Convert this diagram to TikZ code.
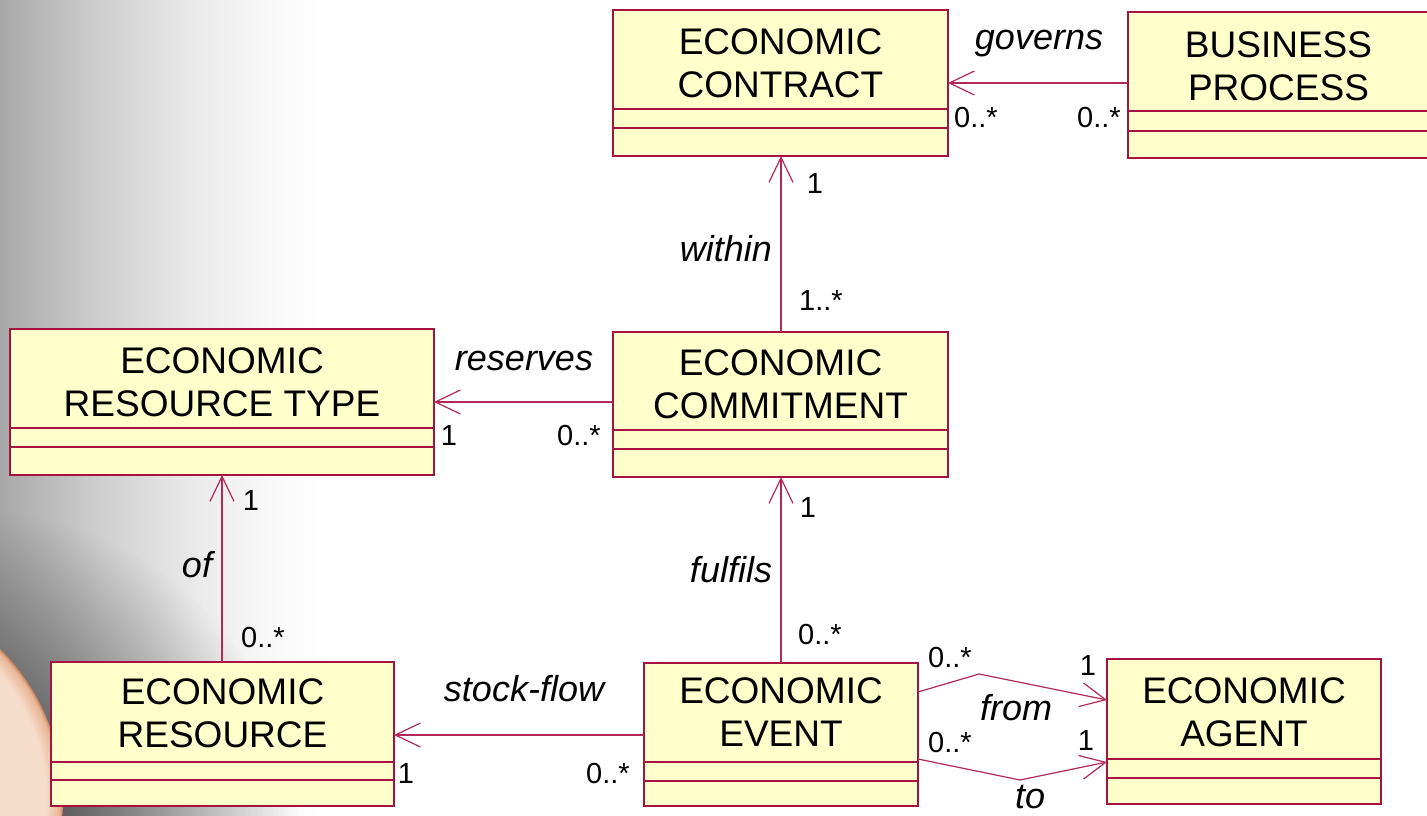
\documentclass[tikz,border=0pt]{standalone}
\usepackage{fontspec}
\setmainfont{Liberation Sans}
\usetikzlibrary{arrows.meta,fit,fadings}
\tikzfading[name=darkfade, inner color=transparent!0, outer color=transparent!100]
\definecolor{umlred}{RGB}{165,20,65}
\definecolor{umlline}{RGB}{178,40,88}
\definecolor{umlfill}{RGB}{255,255,204}
\definecolor{bgA}{RGB}{168,168,168}
\definecolor{bgB}{RGB}{207,207,207}
\definecolor{bgC}{RGB}{235,235,235}
\definecolor{bgD}{RGB}{250,250,250}
\definecolor{planetcore}{RGB}{255,248,242}
\definecolor{planetlight}{RGB}{246,220,202}
\definecolor{planetmid}{RGB}{232,182,150}
\definecolor{planetrim}{RGB}{200,125,88}
\pgfdeclarehorizontalshading{bggrad}{100bp}{%
  color(0bp)=(bgA); color(25bp)=(bgA); color(37.5bp)=(bgB); color(50bp)=(bgC);
  color(60bp)=(bgD); color(66bp)=(white); color(100bp)=(white)}
\pgfdeclareradialshading{planetshade}{\pgfpoint{0bp}{0bp}}{%
  color(0bp)=(planetcore); color(16bp)=(planetlight); color(23bp)=(planetlight);
  color(24.6bp)=(planetmid); color(25bp)=(planetrim); color(50bp)=(planetrim)}
\tikzset{
  classbox/.style={draw=umlred, fill=umlfill, line width=1.6pt, inner sep=0pt, outer sep=0pt},
  sepline/.style={draw=umlred, line width=1.3pt},
  classtitle/.style={font=\fontsize{37}{43}\selectfont, align=center, inner sep=0pt, text=black},
  role/.style={font=\fontsize{36}{40}\selectfont\itshape, inner sep=0pt, anchor=base},
  mult/.style={font=\fontsize{29}{32}\selectfont, inner sep=0pt, anchor=base},
  assoc/.style={draw=umlline, line width=1.2pt, -{Straight Barb[length=25pt,width=24pt]}},
}
% #1 name, #2 x1, #3 y1, #4 x2, #5 y2, #6 sep1, #7 sep2, #8 title centre y, #9 title
\newcommand\umlclass[9]{%
  \node[classbox, fit={(#2,#3) (#4,#5)}] (#1) {};
  \draw[sepline] (#1.west |- 0,#6) -- (#1.east |- 0,#6);
  \draw[sepline] (#1.west |- 0,#7) -- (#1.east |- 0,#7);
  \node[classtitle] (#1-name) at (#1.center |- 0,#8) {#9};
}
\begin{document}
\begin{tikzpicture}[x=1pt,y=-1pt]
\useasboundingbox (0,0) rectangle (1427,816);
% background
\begin{scope}
  \clip (0,0) rectangle (1427,816);
  \fill[white] (0,0) rectangle (1427,816);
  \shade[shading=bggrad] (0,0) rectangle (400,816);
  \fill[black!85, fill opacity=0.9, path fading=darkfade] (-30,840) circle (330);
  \shade[shading=planetshade] (-150,800) circle (213);
\end{scope}

% classes
\umlclass{contract}{613}{10}{948}{156}{109}{128}{63}{ECONOMIC\\CONTRACT}
\umlclass{process}{1128}{12}{1429}{158}{111}{131}{66}{BUSINESS\\PROCESS}
\umlclass{restype}{10}{329}{434}{475}{428}{447}{382}{ECONOMIC\\RESOURCE TYPE}
\umlclass{commit}{613}{332}{948}{477}{430}{449}{384}{ECONOMIC\\COMMITMENT}
\umlclass{resource}{51}{662}{394}{806}{762}{780}{713}{ECONOMIC\\RESOURCE}
\umlclass{event}{644}{663}{918}{806}{762}{781}{712}{ECONOMIC\\EVENT}
\umlclass{agent}{1107}{659}{1381}{804}{759}{778}{712}{ECONOMIC\\AGENT}

% bend points
\coordinate (fromBend) at (979,674);
\coordinate (toBend) at (1020,780);

% associations
\draw[assoc] (process.west |- 0,83) -- (contract.east |- 0,83);
\draw[assoc] (commit.north -| 781,0) -- (contract.south -| 781,0);
\draw[assoc] (commit.west |- 0,402) -- (restype.east |- 0,402);
\draw[assoc] (resource.north -| 222,0) -- (restype.south -| 222,0);
\draw[assoc] (event.north -| 781,0) -- (commit.south -| 781,0);
\draw[assoc] (event.west |- 0,735) -- (resource.east |- 0,735);
\draw[assoc] (event.east |- 0,692) -- (fromBend) -- (agent.west |- 0,700);
\draw[assoc] (event.east |- 0,759) -- (toBend) -- (agent.west |- 0,762);

% role names
\node[role] (lGoverns) at (1039,50) {governs};
\node[role] (lWithin) at (726,261) {within};
\node[role] (lReserves) at (524,370) {reserves};
\node[role] (lOf) at (197,577) {of};
\node[role] (lFulfils) at (731,582) {fulfils};
\node[role] (lStock) at (524,701) {stock-flow};
\node[role] (lFrom) at (1016,720) {from};
\node[role] (lTo) at (1030,808) {to};

% multiplicities
\node[mult] (m1) at (976,127) {0..*};
\node[mult] (m2) at (1099,127) {0..*};
\node[mult] (m3) at (815,193) {1};
\node[mult] (m4) at (821,310) {1..*};
\node[mult] (m5) at (449,445) {1};
\node[mult] (m6) at (579,445) {0..*};
\node[mult] (m7) at (251,510) {1};
\node[mult] (m8) at (263,647) {0..*};
\node[mult] (m9) at (808,517) {1};
\node[mult] (m10) at (820,644) {0..*};
\node[mult] (m11) at (406,783) {1};
\node[mult] (m12) at (608,783) {0..*};
\node[mult] (m13) at (950,667) {0..*};
\node[mult] (m14) at (1088,675) {1};
\node[mult] (m15) at (950,752) {0..*};
\node[mult] (m16) at (1086,750) {1};
\end{tikzpicture}
\end{document}
